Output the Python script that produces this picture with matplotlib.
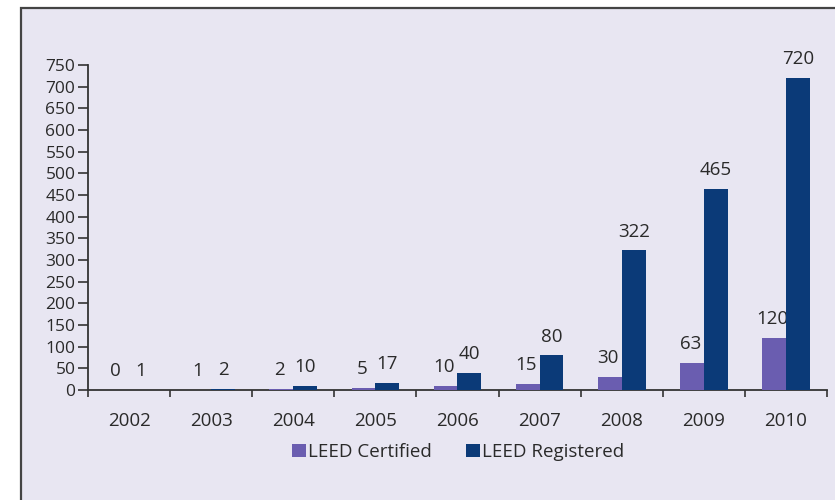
import matplotlib
matplotlib.use("Agg")
import matplotlib.pyplot as plt
from matplotlib.patches import Rectangle
import numpy as np

years = ["2002", "2003", "2004", "2005", "2006", "2007", "2008", "2009", "2010"]
certified = [0, 1, 2, 5, 10, 15, 30, 63, 120]
registered = [1, 2, 10, 17, 40, 80, 322, 465, 720]
series_names = ["LEED Certified", "LEED Registered"]
yticks = list(range(0, 751, 50))

c_cert = "#6a5db0"
c_reg = "#0b3a78"
bg = "#e8e6f2"
txt = "#2a2a2a"

plt.rcParams['font.family'] = ['Open Sans', 'DejaVu Sans']

fig = plt.figure(figsize=(8.35, 5.0), dpi=100)
fig.patch.set_facecolor("white")
frame = Rectangle((21/835, -0.2), 1.2, 0.2 + (500-8)/500, transform=fig.transFigure,
                  facecolor=bg, edgecolor="#444444", linewidth=1.6, zorder=-10)
fig.patches.append(frame)

ax = fig.add_axes([88/835, 110/500, (827-88)/835, (390-65)/500])
ax.set_facecolor("none")

x = np.arange(len(years))
w = 0.29
b1 = ax.bar(x - w/2, certified, width=w, color=c_cert, zorder=3)
b2 = ax.bar(x + w/2, registered, width=w, color=c_reg, zorder=4)

for xi, v in zip(x, certified):
    ax.annotate(str(v), (xi - w/2 - 0.02, v), xytext=(0, 7), textcoords="offset points",
                ha="center", va="bottom", fontsize=13.5, color=txt, zorder=3.5)
for xi, v in zip(x, registered):
    ax.annotate(str(v), (xi + w/2, v), xytext=(0, 7), textcoords="offset points",
                ha="center", va="bottom", fontsize=13.5, color=txt, zorder=5)

ax.set_xlim(-0.5, len(years) - 0.5)
ax.set_ylim(0, 750)
ax.set_yticks(yticks)
ax.set_yticklabels([str(t) for t in yticks], fontsize=12.5, color=txt)
ax.set_xticks(x)
ax.set_xticklabels(years, fontsize=13.5, color=txt)
ax.set_xticks(np.arange(-0.5, len(years), 1.0), minor=True)
ax.tick_params(axis="x", which="major", length=0, pad=16)
ax.tick_params(axis="x", which="minor", length=5, width=1.2, color="#333333", direction="out")
ax.tick_params(axis="y", length=7, width=1.2, color="#333333", pad=2)
for s in ["top", "right"]:
    ax.spines[s].set_visible(False)
for s in ["left", "bottom"]:
    ax.spines[s].set_color("#333333")
    ax.spines[s].set_linewidth(1.3)

leg = fig.legend([b1, b2], series_names, loc="center", bbox_to_anchor=(458/835, 1 - 452/500),
                 ncol=2, frameon=False, fontsize=13.5, handlelength=0.75, handleheight=0.75,
                 handletextpad=0.1, columnspacing=1.8)
for t in leg.get_texts():
    t.set_color(txt)

fig.savefig("out.png", dpi=100, facecolor=fig.get_facecolor())
